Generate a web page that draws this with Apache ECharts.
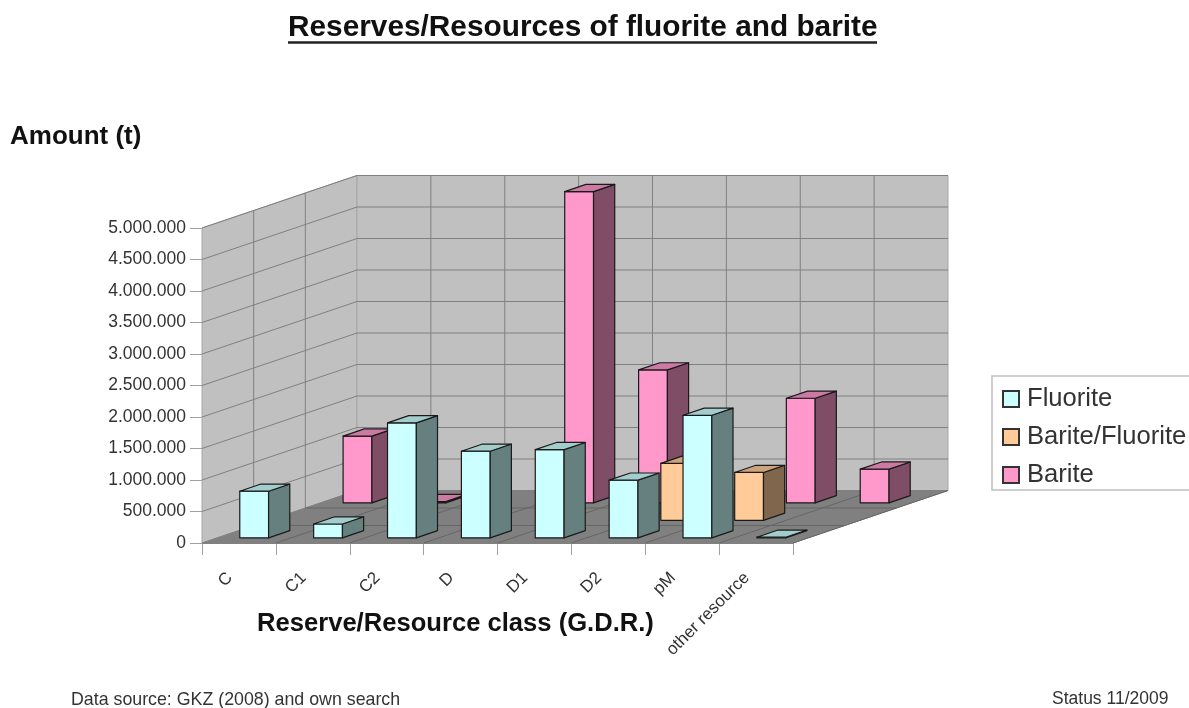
<!DOCTYPE html>
<html>
<head>
<meta charset="utf-8">
<style>html,body{margin:0;padding:0;background:#fff}#chart{width:1189px;height:708px;filter:blur(0.6px)}</style>
<script src="https://cdn.jsdelivr.net/npm/echarts@6/dist/echarts.min.js"></script>
</head>
<body>
<div id="chart"></div>
<script>
const categories = ['C','C1','C2','D','D1','D2','pM','other resource'];
const yTicks = [0,500000,1000000,1500000,2000000,2500000,3000000,3500000,4000000,4500000,5000000];
const fluorite = [740000,220000,1825000,1375000,1400000,915000,1945000,10000];
const bariteFluorite = [null,null,null,null,null,905000,760000,null];
const barite = [1060000,20000,null,4940000,2110000,null,1660000,535000];
const seriesNames = ['Fluorite','Barite/Fluorite','Barite'];

const FONT = '"Liberation Sans", Arial, sans-serif';
const DEPTH = [155, -52.5];        // oblique projection of the chart's depth, px
const ROWS = 3;
const BAR_W = 0.39;                // of the category band
const BAR_D = 0.41;                // of a depth row

function wallItem(params, api) {
  const zero = api.coord([0, 0]);
  const band = api.size([1, 0])[0];
  const x0 = zero[0] - band / 2, y0 = zero[1];
  const x1 = x0 + band * categories.length;
  const yTop = api.coord([0, yTicks[yTicks.length - 1]])[1];
  const [dx, dy] = DEPTH;
  const kids = [];
  const poly = (pts, fill, stroke) => kids.push({type:'polygon',shape:{points:pts},style:{fill:fill,stroke:stroke,lineWidth:1}});
  const line = (a, b, c) => kids.push({type:'line',shape:{x1:a[0],y1:a[1],x2:b[0],y2:b[1]},style:{stroke:c,lineWidth:1,fill:null}});
  poly([[x0,y0],[x0+dx,y0+dy],[x0+dx,yTop+dy],[x0,yTop]], '#c0c0c0', '#a8a8a8');
  poly([[x0+dx,y0+dy],[x1+dx,y0+dy],[x1+dx,yTop+dy],[x0+dx,yTop+dy]], '#c0c0c0', '#a8a8a8');
  poly([[x0,y0],[x1,y0],[x1+dx,y0+dy],[x0+dx,y0+dy]], '#808080', '#808080');
  yTicks.forEach(v => {
    const y = api.coord([0, v])[1];
    if (v > 0) {
      line([x0, y], [x0+dx, y+dy], '#808080');
      line([x0+dx, y+dy], [x1+dx, y+dy], '#808080');
    }
  });
  for (let r = 1; r < ROWS; r++) {
    const fx = dx * r / ROWS, fy = dy * r / ROWS;
    line([x0+fx, y0+fy], [x0+fx, yTop+fy], '#808080');
    line([x0+fx, y0+fy], [x1+fx, y0+fy], '#666666');
  }
  for (let c = 0; c <= categories.length; c++) {
    const x = x0 + band * c;
    if (c > 0 && c < categories.length) line([x+dx, y0+dy], [x+dx, yTop+dy], '#808080');
    if (c > 0) line([x, y0], [x+dx, y0+dy], '#666666');
  }
  return {type:'group', children:kids};
}

function barRenderer(row, front, side, top) {
  return function (params, api) {
    const val = api.value(1);
    if (val == null || isNaN(val)) return null;
    const base = api.coord([api.value(0), 0]);
    const head = api.coord([api.value(0), val]);
    const band = api.size([1, 0])[0];
    const w = band * BAR_W;
    const ddx = DEPTH[0] / ROWS * BAR_D, ddy = DEPTH[1] / ROWS * BAR_D;
    const ox = DEPTH[0] / ROWS * (row + 0.5) - ddx / 2;
    const oy = DEPTH[1] / ROWS * (row + 0.5) - ddy / 2;
    const l = base[0] - w / 2 + ox, r = l + w;
    const b = base[1] + oy, t = head[1] + oy;
    const st = f => ({fill:f, stroke:'#1a1a1a', lineWidth:1.2, lineJoin:'round'});
    return {type:'group', children:[
      {type:'polygon',shape:{points:[[l,b],[r,b],[r,t],[l,t]]},style:st(front)},
      {type:'polygon',shape:{points:[[r,b],[r+ddx,b+ddy],[r+ddx,t+ddy],[r,t]]},style:st(side)},
      {type:'polygon',shape:{points:[[l,t],[r,t],[r+ddx,t+ddy],[l+ddx,t+ddy]]},style:st(top)}
    ]};
  };
}

const pairs = arr => arr.map((v, i) => [i, v]);
const chart = echarts.init(document.getElementById('chart'), null, {renderer:'canvas'});
const T = (text, left, top, size, bold) => ({text:text,left:left,top:top,padding:0,
  textStyle:{fontFamily:FONT,fontSize:size,fontWeight:bold?'bold':'normal',color:bold?'#111':'#333'}});
chart.setOption({
  animation:false,
  backgroundColor:'#fff',
  title:[
    T('Reserves/Resources of fluorite and barite',288,13,29.8,true),
    T('Amount (t)',10,124,26,true),
    T('Reserve/Resource class (G.D.R.)',257,611,25.6,true),
    T('Data source: GKZ (2008) and own search',71,691,17.8,false),
    T('Status 11/2009',1052,690,17.5,false)
  ],
  graphic:[{type:'line',shape:{x1:288,y1:42.5,x2:877,y2:42.5},style:{stroke:'#222',lineWidth:2.5}}],
  legend:{
    left:992,top:376,orient:'vertical',data:seriesNames,
    backgroundColor:'#fff',borderColor:'#c0c0c0',borderWidth:1.5,
    padding:[10,30,2,10],itemWidth:16,itemHeight:16,itemGap:12,
    icon:'rect',selectedMode:false,
    textStyle:{fontFamily:FONT,fontSize:25.6,color:'#333',padding:[2,0,2,3]}
  },
  grid:{left:202,top:228,width:591,height:315,containLabel:false},
  xAxis:{type:'category',data:categories,boundaryGap:true,
    axisLine:{show:true,lineStyle:{color:'#808080'}},
    axisTick:{show:true,length:12,alignWithLabel:false,lineStyle:{color:'#a0a0a0'}},
    axisLabel:{interval:0,rotate:45,margin:23,padding:[0,13,0,0],fontFamily:FONT,fontSize:17,color:'#333'}
  },
  yAxis:{type:'value',min:yTicks[0],max:yTicks[yTicks.length-1],interval:yTicks[1]-yTicks[0],
    splitLine:{show:false},
    axisLine:{show:true,lineStyle:{color:'#808080'}},
    axisTick:{show:true,length:12,lineStyle:{color:'#a0a0a0'}},
    axisLabel:{margin:16,fontFamily:FONT,fontSize:17.5,color:'#333',
      formatter:v=>String(v).replace(/\B(?=(\d{3})+(?!\d))/g,'.')}
  },
  series:[
    {type:'custom',name:'walls',z:1,silent:true,data:[[0,0]],renderItem:wallItem,encode:{x:0,y:1},tooltip:{show:false}},
    {type:'custom',name:'Barite',z:2,data:pairs(barite),encode:{x:0,y:1},
      itemStyle:{color:'#ff99cc',borderColor:'#333',borderWidth:1},
      renderItem:barRenderer(2,'#ff99cc','#804d66','#cc7aa3')},
    {type:'custom',name:'Barite/Fluorite',z:2,data:pairs(bariteFluorite),encode:{x:0,y:1},
      itemStyle:{color:'#ffcc99',borderColor:'#333',borderWidth:1},
      renderItem:barRenderer(1,'#ffcc99','#80664d','#cca37a')},
    {type:'custom',name:'Fluorite',z:2,data:pairs(fluorite),encode:{x:0,y:1},
      itemStyle:{color:'#ccffff',borderColor:'#333',borderWidth:1},
      renderItem:barRenderer(0,'#ccffff','#668080','#a3cccc')}
  ]
});
</script>
</body>
</html>
